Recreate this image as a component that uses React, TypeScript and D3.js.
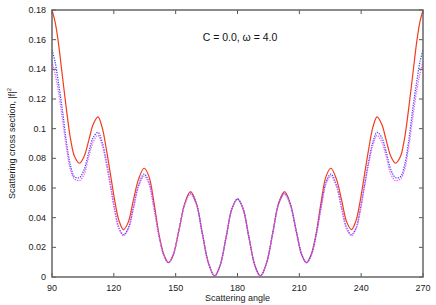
import React from 'react';
import * as d3 from 'd3';

// scattering angle (deg)
const angles = [
  90, 91.5, 93, 95, 97, 99, 101, 103.3, 105.5, 108, 110, 112.3, 114.3, 116.5, 118.5, 120.5, 122.5, 124.7,
  127, 129.5, 132, 134.7, 137, 139.5, 142, 144.3, 146.5, 148.7, 151.5, 154.5, 157.2, 160, 163, 166, 168.9,
  171.5, 174.5, 177.3, 180,
  182.7, 185.5, 188.5, 191.1, 194, 197, 200, 202.8, 205.5, 208.5, 211.3, 213.5, 215.7, 218, 220.5, 223,
  225.3, 228, 230.5, 233, 235.3, 237.5, 239.5, 241.5, 243.5, 245.7, 247.7, 250, 252, 254.5, 256.7, 259,
  261, 263, 265, 267, 268.5, 270,
];

const redSeries = [
  0.18, 0.172, 0.159, 0.136, 0.113, 0.093, 0.081, 0.0767, 0.081, 0.093, 0.103, 0.108, 0.101, 0.085, 0.068,
  0.051, 0.038, 0.032, 0.037, 0.052, 0.066, 0.0733, 0.068, 0.05, 0.028, 0.015, 0.0097, 0.0145, 0.031, 0.05,
  0.0575, 0.05, 0.029, 0.009, 0.0007, 0.0075, 0.027, 0.046, 0.0526,
  0.046, 0.027, 0.0075, 0.0007, 0.009, 0.029, 0.05, 0.0575, 0.05, 0.031, 0.0145, 0.0097, 0.015, 0.028,
  0.05, 0.068, 0.0733, 0.066, 0.052, 0.037, 0.032, 0.038, 0.051, 0.068, 0.085, 0.101, 0.108, 0.103, 0.093,
  0.081, 0.0767, 0.081, 0.093, 0.113, 0.136, 0.159, 0.172, 0.18,
];

const blueSeries = [
  0.153, 0.145, 0.132, 0.113, 0.091, 0.075, 0.0675, 0.067, 0.072, 0.085, 0.094, 0.0975, 0.091, 0.077, 0.061,
  0.045, 0.033, 0.0285, 0.033, 0.047, 0.062, 0.0694, 0.064, 0.047, 0.027, 0.0145, 0.0097, 0.0145, 0.031,
  0.0495, 0.0565, 0.0495, 0.0288, 0.009, 0.0007, 0.0075, 0.027, 0.046, 0.0526,
  0.046, 0.027, 0.0075, 0.0007, 0.009, 0.0288, 0.0495, 0.0565, 0.0495, 0.031, 0.0145, 0.0097, 0.0145,
  0.027, 0.047, 0.064, 0.0694, 0.062, 0.047, 0.033, 0.0285, 0.033, 0.045, 0.061, 0.077, 0.091, 0.0975,
  0.094, 0.085, 0.072, 0.067, 0.0675, 0.075, 0.091, 0.113, 0.132, 0.145, 0.153,
];

const magentaSeries = [
  0.145, 0.137, 0.126, 0.107, 0.087, 0.072, 0.066, 0.065, 0.069, 0.082, 0.091, 0.0955, 0.089, 0.075, 0.06,
  0.044, 0.0325, 0.028, 0.032, 0.046, 0.061, 0.068, 0.063, 0.046, 0.027, 0.0143, 0.0097, 0.0145, 0.031,
  0.049, 0.0558, 0.049, 0.0286, 0.009, 0.0007, 0.0075, 0.027, 0.046, 0.0526,
  0.046, 0.027, 0.0075, 0.0007, 0.009, 0.0286, 0.049, 0.0558, 0.049, 0.031, 0.0145, 0.0097, 0.0143,
  0.027, 0.046, 0.063, 0.068, 0.061, 0.046, 0.032, 0.028, 0.0325, 0.044, 0.06, 0.075, 0.089, 0.0955,
  0.091, 0.082, 0.069, 0.065, 0.066, 0.072, 0.087, 0.107, 0.126, 0.137, 0.145,
];

const xTicks = [90, 120, 150, 180, 210, 240, 270];
const yTicks = [0, 0.02, 0.04, 0.06, 0.08, 0.1, 0.12, 0.14, 0.16, 0.18];

const W = 436;
const H = 305;
const margin = { left: 52, right: 13, top: 10, bottom: 28 };

export default function App() {
  const x = d3.scaleLinear().domain([90, 270]).range([margin.left, W - margin.right]);
  const y = d3.scaleLinear().domain([0, 0.18]).range([H - margin.bottom, margin.top]);

  const line = (vals: number[]) =>
    d3
      .line<number>()
      .x((_, i) => x(angles[i]))
      .y((d) => y(d))
      .curve(d3.curveCatmullRom.alpha(0.5))(vals) || '';

  // red underneath, dotted ones on top
  const series = [
    { vals: redSeries, color: '#f43a1c', dash: undefined, w: 1.2 },
    { vals: blueSeries, color: '#3a50ff', dash: '1.3,1.2', w: 1.3 },
    { vals: magentaSeries, color: '#f060f0', dash: '1.3,1.2', w: 1.3 },
  ];

  const font = '"Liberation Sans", Arial, sans-serif';
  const x0 = margin.left;
  const x1 = W - margin.right;
  const y0 = H - margin.bottom;
  const y1 = margin.top;

  return (
    <svg width={W} height={H} style={{ position: 'absolute', left: 0, top: 0 }} fontFamily={font}>
      <rect width={W} height={H} fill="#fff" />
      <defs>
        <clipPath id="plot">
          <rect x={x0} y={y1} width={x1 - x0} height={y0 - y1} />
        </clipPath>
      </defs>
      <g clipPath="url(#plot)">
        {series.map((s, i) => (
          <path key={i} d={line(s.vals)} fill="none" stroke={s.color} strokeWidth={s.w} strokeDasharray={s.dash} />
        ))}
      </g>
      {/* ticks */}
      <g stroke="#555" strokeWidth={1}>
        {xTicks.map((t) => (
          <g key={t}>
            <line x1={x(t)} x2={x(t)} y1={y0} y2={y0 - 4} />
            <line x1={x(t)} x2={x(t)} y1={y1} y2={y1 + 4} />
          </g>
        ))}
        {yTicks.map((t) => (
          <g key={t}>
            <line x1={x0} x2={x0 + 4} y1={y(t)} y2={y(t)} />
            <line x1={x1} x2={x1 - 4} y1={y(t)} y2={y(t)} />
          </g>
        ))}
      </g>
      <rect x={x0} y={y1} width={x1 - x0} height={y0 - y1} fill="none" stroke="#666" strokeWidth={1.5} />
      {xTicks.map((t) => (
        <text key={t} x={x(t)} y={y0 + 14} textAnchor="middle" fontSize={9} fill="#222">
          {t}
        </text>
      ))}
      {yTicks.map((t) => (
        <text key={t} x={x0 - 6} y={y(t) + 3} textAnchor="end" fontSize={9} fill="#222">
          {String(+t.toFixed(2))}
        </text>
      ))}
      <text x={(x0 + x1) / 2} y={H - 4} textAnchor="middle" fontSize={9} fill="#222">
        Scattering angle
      </text>
      <text
        transform={`translate(15,${(y0 + y1) / 2}) rotate(-90)`}
        textAnchor="middle"
        fontSize={9}
        fill="#222"
      >
        Scattering cross section, |f|<tspan dy={-4} fontSize={6}>2</tspan>
      </text>
      <text x={240} y={41} textAnchor="middle" fontSize={10.5} fill="#111">
        C = 0.0, ω = 4.0
      </text>
    </svg>
  );
}
